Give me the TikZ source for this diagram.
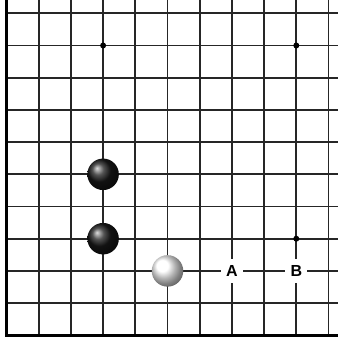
\documentclass[tikz,border=0pt]{standalone}
\usepackage{fontspec}
\setmainfont{Liberation Sans}
\begin{document}
\begin{tikzpicture}[x=1pt,y=-1pt,
  gridline/.style={line width=1.7pt,black!85},
  edgeline/.style={line width=3.2pt,black},
  star/.style={circle,fill=black,inner sep=0pt,minimum size=6pt},
  blackstone/.style={circle,inner sep=0pt,minimum size=31.5pt,shading=ball,ball color=black!90},
  whitestone/.style={circle,inner sep=0pt,minimum size=31.5pt,shading=ball,ball color=white},
  marklabel/.style={fill=white,inner sep=0pt,minimum width=22pt,minimum height=24pt,font=\bfseries\fontsize{16}{16}\selectfont}]
\useasboundingbox (0,0) rectangle (338,340);
\fill[white] (0,0) rectangle (338,340);
\foreach \i in {1,...,10} {
  \draw[gridline] ({6.5+32.2*\i},0) -- ({6.5+32.2*\i},335.5);
}
\foreach \j in {0,...,9} {
  \draw[gridline] (6.5,{13.3+32.2*\j}) -- (338,{13.3+32.2*\j});
}
\draw[edgeline] (6.5,0) -- (6.5,335.5) -- (338,335.5);
\node[star] (s1) at (103.1,45.5) {};
\node[star] (s2) at (296.3,45.5) {};
\node[star] (s3) at (296.3,238.7) {};
\node[blackstone] (b1) at (103.1,174.3) {};
\node[blackstone] (b2) at (103.1,238.7) {};
\node[whitestone] (w1) at (167.5,270.9) {};
\node[marklabel] (A) at (231.9,270.9) {A};
\node[marklabel] (B) at (296.3,270.9) {B};
\end{tikzpicture}
\end{document}
